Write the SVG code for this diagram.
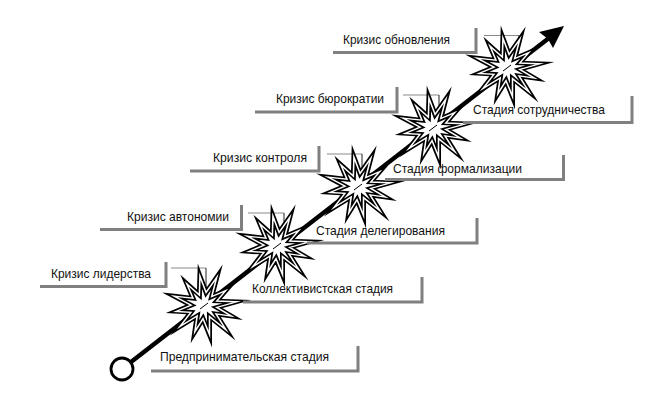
<svg xmlns="http://www.w3.org/2000/svg" xmlns:xlink="http://www.w3.org/1999/xlink" width="649" height="400" viewBox="0 0 649 400">
<style>
  .lbl { font-family: "Liberation Sans", Arial, sans-serif; font-size: 13.5px; fill: #111; }
  .shadow { stroke: #808080; stroke-width: 3; fill: none; }
  .ch { stroke: #8a8a8a; stroke-width: 1; fill: none; }
  .cv { stroke: #222; stroke-width: 1; fill: none; }
  .outer { fill: #fff; stroke: #000; stroke-width: 4.6; stroke-linejoin: miter; stroke-miterlimit: 10; }
  .inner { fill: none; stroke: #fff; stroke-width: 1.4; stroke-linejoin: miter; stroke-miterlimit: 10; }
</style>
<defs>
  <path id="starShape" transform="scale(1.1,1)" d="M -27.3,-9.9 L -10,-7.8 L -15.5,-22.1 L -4.2,-11 L -3.7,-29.8 L 1.9,-13.5 L 11.6,-28.7 L 7,-9.4 L 19.7,-15.4 L 11.6,-5 L 29.7,-4.2 L 11.6,1.4 L 25,10.1 L 10.9,7.9 L 19.9,23.7 L 5,10.6 L 5,28.6 L -0.9,12.6 L -8.3,25.7 L -6.2,9.9 L -21.9,20.5 L -11.9,6.3 L -25.4,5.4 L -11.7,-0.8 Z"/>
  <g id="star">
    <use xlink:href="#starShape" class="outer"/>
    <use xlink:href="#starShape" class="inner"/>
    <line x1="-4" y1="3" x2="4" y2="-3" stroke="#000" stroke-width="1"/>
  </g>
</defs>
<rect width="649" height="400" fill="#fff"/>

<g id="connectors">
  <line x1="131" y1="362" x2="549" y2="38" stroke="#000" stroke-width="4.4"/>
  <polygon points="564,26 539,32 548,39 553,48" fill="#000"/>
  <path class="ch" d="M171,268 H206"/><path class="cv" d="M206,268 V287"/>
  <path class="ch" d="M248,213 H284"/><path class="cv" d="M284,213 V232"/>
  <path class="ch" d="M327,154 H362"/><path class="cv" d="M362,154 V173"/>
  <path class="ch" d="M403,95 H439"/><path class="cv" d="M439,95 V110"/>
  <path class="ch" d="M484,35.5 H519"/><path class="cv" d="M519,35.5 V50"/>
</g>

<g id="start">
  <circle cx="122" cy="369" r="11" fill="#fff" stroke="#000" stroke-width="2.8"/>
</g>

<g id="star-leadership"><use xlink:href="#star" transform="translate(204,306)"/></g>
<g id="star-autonomy"><use xlink:href="#star" transform="translate(277,246)"/></g>
<g id="star-control"><use xlink:href="#star" transform="translate(358,187)"/></g>
<g id="star-bureaucracy"><use xlink:href="#star" transform="translate(433,128)"/></g>
<g id="star-renewal"><use xlink:href="#star" transform="translate(507,68)"/></g>

<g id="crisis-leadership">
  <path class="shadow" d="M40,286.5 H166 M166,262 V288"/>
  <text class="lbl" x="51" y="278" textLength="100" lengthAdjust="spacingAndGlyphs">Кризис лидерства</text>
</g>
<g id="crisis-autonomy">
  <path class="shadow" d="M100,229.5 H241.5 M241.5,205 V231"/>
  <text class="lbl" x="127" y="221" textLength="102" lengthAdjust="spacingAndGlyphs">Кризис автономии</text>
</g>
<g id="crisis-control">
  <path class="shadow" d="M190,171 H319 M319,146 V172.5"/>
  <text class="lbl" x="213" y="162" textLength="94" lengthAdjust="spacingAndGlyphs">Кризис контроля</text>
</g>
<g id="crisis-bureaucracy">
  <path class="shadow" d="M255,112 H397 M397,87 V113.5"/>
  <text class="lbl" x="276" y="103" textLength="108" lengthAdjust="spacingAndGlyphs">Кризис бюрократии</text>
</g>
<g id="crisis-renewal">
  <path class="shadow" d="M333,52.5 H476 M476,28 V54"/>
  <text class="lbl" x="343" y="44" textLength="107" lengthAdjust="spacingAndGlyphs">Кризис обновления</text>
</g>

<g id="stage-entrepreneurial">
  <path class="shadow" d="M151,371 H358 M358,346 V372.5"/>
  <text class="lbl" x="160" y="361" textLength="169" lengthAdjust="spacingAndGlyphs">Предпринимательская стадия</text>
</g>
<g id="stage-collective">
  <path class="shadow" d="M243,302 H422 M422,277 V303.5"/>
  <text class="lbl" x="252" y="293" textLength="141" lengthAdjust="spacingAndGlyphs">Коллективистская стадия</text>
</g>
<g id="stage-delegation">
  <path class="shadow" d="M307,243 H477 M477,218 V244.5"/>
  <text class="lbl" x="316" y="235" textLength="129" lengthAdjust="spacingAndGlyphs">Стадия делегирования</text>
</g>
<g id="stage-formalization">
  <path class="shadow" d="M385,179.5 H563.5 M563.5,155 V181"/>
  <text class="lbl" x="393" y="173" textLength="129" lengthAdjust="spacingAndGlyphs">Стадия формализации</text>
</g>
<g id="stage-collaboration">
  <path class="shadow" d="M463,122.5 H632 M632,96 V124"/>
  <text class="lbl" x="473" y="114" textLength="132" lengthAdjust="spacingAndGlyphs">Стадия сотрудничества</text>
</g>
</svg>
